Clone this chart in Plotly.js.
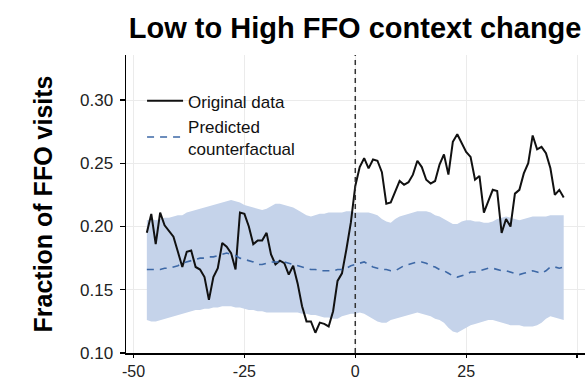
<!DOCTYPE html>
<html>
<head>
<meta charset="utf-8">
<script src="https://cdn.plot.ly/plotly-3.0.1.min.js"></script>
<style>
html,body{margin:0;padding:0;background:#fff;overflow:hidden;}
#chart{width:585px;height:381px;}
</style>
</head>
<body>
<div id="chart"></div>
<script>
// Relative time (x) from -47 to 47
const timeSteps = [-47,-46,-45,-44,-43,-42,-41,-40,-39,-38,-37,-36,-35,-34,-33,-32,-31,-30,-29,-28,-27,-26,-25,-24,-23,-22,-21,-20,-19,-18,-17,-16,-15,-14,-13,-12,-11,-10,-9,-8,-7,-6,-5,-4,-3,-2,-1,0,1,2,3,4,5,6,7,8,9,10,11,12,13,14,15,16,17,18,19,20,21,22,23,24,25,26,27,28,29,30,31,32,33,34,35,36,37,38,39,40,41,42,43,44,45,46,47];

const originalData = [0.195,0.210,0.186,0.211,0.201,0.196,0.192,0.180,0.168,0.180,0.181,0.168,0.166,0.160,0.142,0.160,0.167,0.187,0.184,0.179,0.166,0.211,0.210,0.200,0.186,0.189,0.189,0.195,0.178,0.170,0.173,0.171,0.162,0.169,0.155,0.137,0.125,0.125,0.116,0.124,0.123,0.121,0.133,0.157,0.163,0.182,0.203,0.232,0.247,0.254,0.246,0.253,0.252,0.243,0.218,0.219,0.228,0.236,0.233,0.235,0.241,0.252,0.247,0.237,0.234,0.236,0.249,0.257,0.241,0.267,0.273,0.266,0.259,0.255,0.237,0.240,0.211,0.220,0.229,0.228,0.195,0.206,0.200,0.226,0.229,0.242,0.250,0.272,0.261,0.263,0.258,0.246,0.225,0.229,0.223];

const predicted = [0.166,0.166,0.166,0.166,0.167,0.167,0.168,0.169,0.171,0.172,0.173,0.174,0.175,0.175,0.176,0.176,0.177,0.178,0.179,0.178,0.177,0.175,0.174,0.173,0.172,0.170,0.170,0.171,0.172,0.172,0.172,0.172,0.171,0.170,0.169,0.168,0.167,0.166,0.166,0.165,0.165,0.165,0.165,0.166,0.166,0.167,0.169,0.170,0.171,0.172,0.170,0.168,0.167,0.166,0.166,0.165,0.165,0.167,0.169,0.170,0.171,0.172,0.172,0.171,0.169,0.168,0.166,0.165,0.163,0.161,0.160,0.161,0.162,0.164,0.164,0.165,0.166,0.167,0.167,0.166,0.165,0.165,0.164,0.163,0.162,0.163,0.164,0.165,0.164,0.163,0.165,0.168,0.168,0.167,0.168];

const upperBand = [0.205,0.206,0.205,0.206,0.207,0.207,0.208,0.209,0.209,0.211,0.212,0.213,0.214,0.215,0.216,0.217,0.218,0.219,0.220,0.221,0.220,0.219,0.217,0.216,0.215,0.214,0.213,0.214,0.216,0.218,0.218,0.217,0.216,0.215,0.213,0.211,0.209,0.208,0.209,0.210,0.210,0.211,0.211,0.211,0.211,0.212,0.212,0.211,0.211,0.211,0.211,0.210,0.209,0.206,0.204,0.203,0.206,0.208,0.209,0.210,0.211,0.212,0.212,0.212,0.211,0.209,0.208,0.206,0.204,0.202,0.202,0.204,0.205,0.205,0.204,0.204,0.203,0.203,0.204,0.206,0.207,0.208,0.207,0.206,0.205,0.206,0.207,0.208,0.208,0.208,0.208,0.209,0.209,0.209,0.209];

const lowerBand = [0.126,0.125,0.125,0.126,0.127,0.128,0.129,0.130,0.131,0.132,0.133,0.134,0.134,0.135,0.135,0.136,0.136,0.137,0.137,0.137,0.136,0.136,0.135,0.134,0.134,0.133,0.133,0.132,0.132,0.132,0.132,0.132,0.132,0.132,0.132,0.131,0.131,0.130,0.130,0.129,0.128,0.128,0.127,0.127,0.129,0.130,0.131,0.131,0.132,0.131,0.129,0.127,0.125,0.124,0.124,0.126,0.127,0.128,0.129,0.130,0.131,0.132,0.131,0.130,0.129,0.127,0.126,0.124,0.120,0.117,0.116,0.118,0.120,0.122,0.123,0.124,0.125,0.126,0.126,0.125,0.124,0.123,0.122,0.122,0.122,0.121,0.121,0.121,0.122,0.124,0.127,0.129,0.128,0.127,0.126];

const xTickVals = [-50,-25,0,25,50];
const xTickText = ['-50','-25','0','25','50'];
const yTickVals = [0.10,0.15,0.20,0.25,0.30];
const yTickText = ['0.10','0.15','0.20','0.25','0.30'];
const eventTime = 0;
const seriesNames = ['Original data','Predicted<br>counterfactual'];

const FONT = 'Liberation Sans, Arial, Helvetica, sans-serif';

const traces = [
  {x: timeSteps, y: lowerBand, type:'scatter', mode:'lines', line:{width:0, color:'rgba(0,0,0,0)'}, showlegend:false, hoverinfo:'skip'},
  {x: timeSteps, y: upperBand, type:'scatter', mode:'lines', line:{width:0, color:'rgba(0,0,0,0)'}, fill:'tonexty', fillcolor:'#c5d3ea', showlegend:false, hoverinfo:'skip'},
  {x: timeSteps, y: originalData, type:'scatter', mode:'lines', name: seriesNames[0], line:{color:'#111111', width:2}},
  {x: timeSteps, y: predicted, type:'scatter', mode:'lines', name: seriesNames[1], line:{color:'#3d68a6', width:1.6, dash:'7px,6px'}}
];

const layout = {
  width: 585, height: 381,
  margin: {l:126, r:0, t:55, b:28, pad:0},
  paper_bgcolor:'#ffffff', plot_bgcolor:'#ffffff',
  font: {family: FONT, color:'#222', size:17},
  title: {text:'<b>Low to High FFO context change</b>', x:0.607, xanchor:'center', y:0.926, yanchor:'middle', font:{family:FONT, size:29, color:'#000'}},
  xaxis: {
    range:[-51.7, 51.8], tickmode:'array', tickvals:xTickVals, ticktext:xTickText,
    showgrid:true, gridcolor:'#ebebeb', gridwidth:1, zeroline:false,
    showline:true, linecolor:'#000', linewidth:1.5,
    ticks:'outside', ticklen:3, tickwidth:1.2, tickcolor:'#000',
    tickfont:{family:FONT, size:16, color:'#222'}
  },
  yaxis: {
    range:[0.1, 0.3356], tickmode:'array', tickvals:yTickVals, ticktext:yTickText,
    showgrid:true, gridcolor:'#ebebeb', gridwidth:1, zeroline:false,
    showline:true, linecolor:'#000', linewidth:1.5,
    ticks:'outside', ticklen:5, tickwidth:1.2, tickcolor:'#000',
    ticklabelstandoff:3,
    tickfont:{family:FONT, size:17, color:'#222'},
    title:{text:'<b>Fraction of FFO visits</b>', font:{family:FONT, size:25, color:'#000'}, standoff:20}
  },
  legend: {
    x:0.035, y:0.905, xanchor:'left', yanchor:'top',
    bgcolor:'rgba(0,0,0,0)', borderwidth:0,
    font:{family:FONT, size:17, color:'#111'},
    itemwidth:36, tracegroupgap:0, traceorder:'normal'
  },
  shapes: [
    {type:'line', xref:'x', yref:'paper', x0:eventTime, x1:eventTime, y0:0, y1:1,
     line:{color:'#333', width:1.5, dash:'5px,4px'}, layer:'above'}
  ],
  showlegend:true
};

Plotly.newPlot('chart', traces, layout, {displayModeBar:false, staticPlot:true});
</script>
</body>
</html>
